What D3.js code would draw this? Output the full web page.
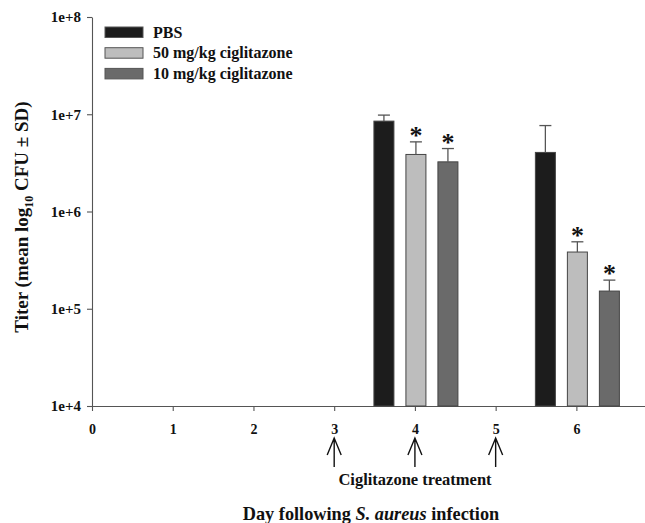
<!DOCTYPE html>
<html>
<head>
<meta charset="utf-8">
<script src="https://cdn.jsdelivr.net/npm/d3@7"></script>
<style>
  body { margin: 0; background: #fff; }
  text { font-family: "Liberation Serif", "DejaVu Serif", serif; font-weight: bold; fill: #111; }
</style>
</head>
<body>
<svg id="chart" width="645" height="523"></svg>
<script>
// data
var days = [4, 6];
var series = ["PBS", "50 mg/kg ciglitazone", "10 mg/kg ciglitazone"];
var colours = ["#1c1c1c", "#bdbdbd", "#6a6a6a"];
var pbsMean = [8.5e6, 4.05e6];
var pbsSD = [1.3e6, 3.6e6];
var high50Mean = [3.86e6, 3.83e5];
var high50SD = [1.34e6, 1.05e5];
var low10Mean = [3.24e6, 1.52e5];
var low10SD = [1.2e6, 4.5e4];
var significant = [[false, false], [true, true], [true, true]];
var xTicks = [0, 1, 2, 3, 4, 5, 6];
var yTicks = [1e4, 1e5, 1e6, 1e7, 1e8];
var treatmentDays = [3, 4, 5];

var means = [pbsMean, high50Mean, low10Mean];
var sds = [pbsSD, high50SD, low10SD];

var svg = d3.select("#chart");

var x = d3.scaleLinear().domain([0, 6.85]).range([92, 645]);
var y = d3.scaleLog().domain([1e4, 1e8]).range([406, 17]);
var xSub = d3.scaleBand().domain(series).range([-41, 43]).paddingInner(0.375).paddingOuter(0);

// axes
var yAxis = svg.append("g")
  .attr("transform", "translate(92,0)")
  .call(d3.axisLeft(y).tickValues(yTicks).tickSize(5).tickSizeOuter(0)
    .tickFormat(function(d) { return "1e+" + Math.round(Math.log10(d)); }));
yAxis.selectAll("text").attr("font-size", 15).attr("x", -11).attr("dy", "0.33em");

var xAxis = svg.append("g")
  .attr("transform", "translate(0,406)")
  .call(d3.axisBottom(x).tickValues(xTicks).tickSize(5).tickSizeOuter(0).tickFormat(d3.format("d")));
xAxis.selectAll("text").attr("font-size", 14).attr("y", 18);

svg.selectAll(".domain, .tick line").attr("stroke", "#555").attr("stroke-width", 1.1);
svg.selectAll(".tick text").attr("fill", "#111").attr("font-family", "Liberation Serif").attr("font-weight", "bold");

// flatten bars
var bars = [];
series.forEach(function(s, i) {
  days.forEach(function(d, j) {
    bars.push({ series: s, idx: i, day: d, mean: means[i][j], sd: sds[i][j], star: significant[i][j] });
  });
});

var g = svg.append("g");

g.selectAll("rect.bar")
  .data(bars)
  .enter()
  .append("rect")
  .attr("class", "bar")
  .attr("x", function(d) { return x(d.day) + xSub(d.series); })
  .attr("width", xSub.bandwidth())
  .attr("y", function(d) { return y(d.mean); })
  .attr("height", function(d) { return y(1e4) - y(d.mean); })
  .attr("fill", function(d) { return colours[d.idx]; })
  .attr("stroke", "#444")
  .attr("stroke-width", 1);

// error bars (upper only)
var eb = g.selectAll("g.err").data(bars).enter().append("g").attr("class", "err");
eb.append("line")
  .attr("x1", function(d) { return x(d.day) + xSub(d.series) + xSub.bandwidth() / 2; })
  .attr("x2", function(d) { return x(d.day) + xSub(d.series) + xSub.bandwidth() / 2; })
  .attr("y1", function(d) { return y(d.mean); })
  .attr("y2", function(d) { return y(d.mean + d.sd); })
  .attr("stroke", "#555").attr("stroke-width", 1.3);
eb.append("line")
  .attr("x1", function(d) { return x(d.day) + xSub(d.series) + xSub.bandwidth() / 2 - 6; })
  .attr("x2", function(d) { return x(d.day) + xSub(d.series) + xSub.bandwidth() / 2 + 6; })
  .attr("y1", function(d) { return y(d.mean + d.sd); })
  .attr("y2", function(d) { return y(d.mean + d.sd); })
  .attr("stroke", "#555").attr("stroke-width", 1.3);

// significance stars
g.selectAll("text.star")
  .data(bars.filter(function(d) { return d.star; }))
  .enter()
  .append("text")
  .attr("class", "star")
  .attr("x", function(d) { return x(d.day) + xSub(d.series) + xSub.bandwidth() / 2; })
  .attr("y", function(d) { return y(d.mean + d.sd) + 2; })
  .attr("text-anchor", "middle")
  .attr("font-size", 26)
  .attr("fill", "#222")
  .text("*");

// legend
var legend = svg.append("g").selectAll("g").data(series).enter().append("g")
  .attr("transform", function(d, i) { return "translate(105," + (27 + i * 20.7) + ")"; });
legend.append("rect")
  .attr("width", 38).attr("height", 10.5)
  .attr("fill", function(d, i) { return colours[i]; })
  .attr("stroke", "#555").attr("stroke-width", 1);
legend.append("text")
  .attr("x", 48).attr("y", 10.5)
  .attr("font-size", 16)
  .text(function(d) { return d; });

// treatment arrows
var arrows = svg.append("g").selectAll("g").data(treatmentDays).enter().append("g")
  .attr("transform", function(d) { return "translate(" + x(d) + ",0)"; });
arrows.append("path")
  .attr("d", "M0,467V438M-7,455L0,438L7,455")
  .attr("fill", "none").attr("stroke", "#111").attr("stroke-width", 1.4);

svg.append("text")
  .attr("x", 415).attr("y", 485)
  .attr("text-anchor", "middle")
  .attr("font-size", 16.5)
  .text("Ciglitazone treatment");

// x title
var xt = svg.append("text")
  .attr("x", 371).attr("y", 520)
  .attr("text-anchor", "middle")
  .attr("font-size", 18.3);
xt.append("tspan").text("Day following ");
xt.append("tspan").attr("font-style", "italic").text("S. aureus");
xt.append("tspan").text(" infection");

// y title
var yt = svg.append("text")
  .attr("transform", "translate(28,217) rotate(-90)")
  .attr("text-anchor", "middle")
  .attr("font-size", 19);
yt.append("tspan").text("Titer (mean log");
yt.append("tspan").attr("font-size", 12).attr("dy", 5).text("10");
yt.append("tspan").attr("dy", -5).text(" CFU \u00b1 SD)");
</script>
</body>
</html>
